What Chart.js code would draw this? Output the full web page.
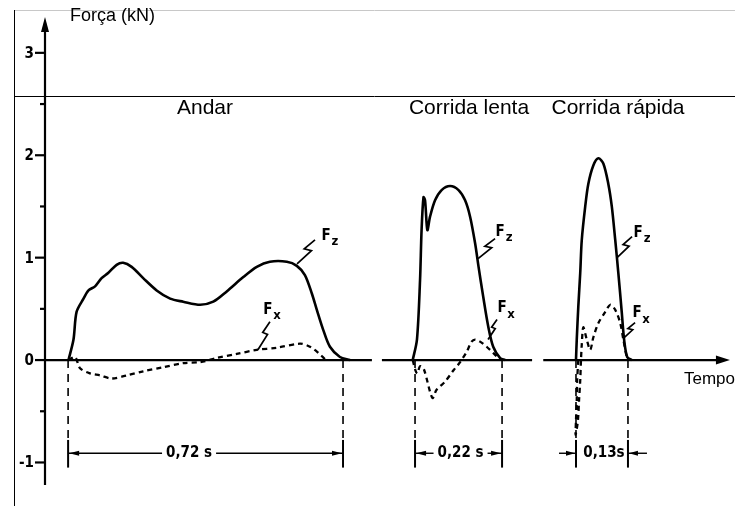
<!DOCTYPE html>
<html><head><meta charset="utf-8">
<script src="https://cdn.jsdelivr.net/npm/chart.js@4.4.1/dist/chart.umd.min.js"></script>
<style>html,body{margin:0;padding:0;background:#fff;}#wrap{width:735px;height:506px;position:relative;}</style>
</head><body><div id="wrap"><canvas id="c" width="735" height="506" style="width:735px;height:506px"></canvas></div>
<script>
// ---------- data (time in s, force in kN) ----------
const walkT  = [0.061,0.074,0.082,0.100,0.113,0.130,0.147,0.164,0.186,0.203,0.225,0.255,0.290,0.325,0.359,0.403,0.437,0.472,0.515,0.550,0.584,0.628,0.654,0.675,0.693,0.706,0.723,0.740,0.766,0.792];
const walkFz = [0,0.20,0.47,0.60,0.68,0.72,0.80,0.85,0.93,0.95,0.91,0.80,0.68,0.60,0.57,0.54,0.57,0.67,0.81,0.91,0.96,0.96,0.92,0.83,0.65,0.49,0.29,0.13,0.03,0];
const walkFxT = [0.061,0.078,0.091,0.117,0.143,0.173,0.212,0.255,0.307,0.359,0.403,0.446,0.498,0.550,0.602,0.662,0.688,0.710,0.727];
const walkFx  = [0,0.03,-0.08,-0.13,-0.15,-0.18,-0.15,-0.11,-0.07,-0.03,-0.02,0.02,0.06,0.10,0.12,0.16,0.13,0.07,0.01];

const slowT  = [0.955,0.966,0.974,0.978,0.983,0.987,0.993,1.000,1.013,1.030,1.052,1.074,1.091,1.104,1.117,1.126,1.138,1.151,1.164,1.182,1.195];
const slowFz = [0,0.20,0.78,1.27,1.59,1.56,1.27,1.40,1.56,1.66,1.70,1.66,1.56,1.40,1.14,0.91,0.62,0.33,0.13,0.02,0];
const slowFxT = [0.955,0.962,0.967,0.974,0.984,1.006,1.017,1.039,1.061,1.078,1.095,1.108,1.117,1.130,1.147,1.164,1.182];
const slowFx  = [0,-0.10,-0.13,-0.06,-0.09,-0.37,-0.29,-0.21,-0.10,-0.02,0.08,0.18,0.20,0.18,0.13,0.07,0];

const fastT  = [1.379,1.381,1.385,1.390,1.394,1.403,1.411,1.424,1.437,1.450,1.463,1.472,1.481,1.489,1.498,1.504,1.512,1.524];
const fastFz = [0,0.20,0.52,0.85,1.17,1.50,1.72,1.90,1.97,1.92,1.72,1.50,1.17,0.85,0.46,0.20,0.03,0];
const fastFxT = [1.385,1.382,1.381,1.379,1.378,1.384,1.387,1.390,1.392,1.394,1.398,1.407,1.416,1.424,1.437,1.455,1.468,1.481,1.494,1.502,1.511,1.516];
const fastFx  = [0,-0.20,-0.39,-0.59,-0.73,-0.59,-0.39,-0.20,0,0.15,0.32,0.20,0.10,0.22,0.36,0.47,0.54,0.49,0.36,0.20,0.03,0];

const phaseNames = ['Andar','Corrida lenta','Corrida rápida'];
const stanceStart = [0.060,0.961,1.379];
const stanceEnd   = [0.774,1.187,1.514];
const durationLabels = ['0,72 s','0,22 s','0,13s'];

const baselineSegments = [[0,0.849],[0.875,1.265],[1.294,1.745]];

const yMajor = [-1,0,1,2,3];
const yMajorLabels = ['-1','0','1','2','3'];
const yMinor = [-0.5,0.5,1.5,2.5];

// leader labels: anchor on curve (t, kN), letter subscript
const leaderT   = [0.6545,0.553,1.1247,1.1506,1.4857,1.5013];
const leaderF   = [0.94,0.10,0.99,0.20,1.00,0.21];
const leaderSub = ['z','x','z','x','z','x'];

// ---------- helpers ----------
const pts = (ts, fs) => ts.map((t,i)=>({x:t,y:fs[i]}));
const baseline = [];
baselineSegments.forEach(([a,b],i)=>{ if(i) baseline.push({x:a-0.005,y:null}); baseline.push({x:a,y:0},{x:b,y:0}); });
const dimLevel = -0.91, dashBottom = -0.78, tickBottom = -1.05;
const verticals = [];
stanceStart.concat(stanceEnd).forEach((t,i)=>{ if(i) verticals.push({x:t,y:null}); verticals.push({x:t,y:0},{x:t,y:dashBottom}); });

const solid = (data,w)=>({data, borderColor:'#000', borderWidth:w, pointRadius:0, tension:0.3, fill:false, spanGaps:false});
const dashed = (data,w,d)=>({data, borderColor:'#000', borderWidth:w, borderDash:d, pointRadius:0, tension:0.3, fill:false, spanGaps:false});

const datasets = [
  Object.assign(solid(baseline,2.2),{tension:0}),
  solid(pts(walkT,walkFz),2.6),
  dashed(pts(walkFxT,walkFx),2.3,[5,4]),
  solid(pts(slowT,slowFz),2.6),
  dashed(pts(slowFxT,slowFx),2.3,[5,4]),
  solid(pts(fastT,fastFz),2.6),
  dashed(pts(fastFxT,fastFx),2.3,[5,4]),
  Object.assign(dashed(verticals,1.6,[8,6]),{tension:0})
];

function seg(ctx,x1,y1,x2,y2){ctx.beginPath();ctx.moveTo(x1,y1);ctx.lineTo(x2,y2);ctx.stroke();}
function arrow(ctx,tx,ty,dir,len,hw){ // dir: 'l','r','u'
  ctx.beginPath();
  if(dir==='u'){ctx.moveTo(tx,ty);ctx.lineTo(tx-hw,ty+len);ctx.lineTo(tx+hw,ty+len);}
  else if(dir==='r'){ctx.moveTo(tx,ty);ctx.lineTo(tx-len,ty-hw);ctx.lineTo(tx-len,ty+hw);}
  else {ctx.moveTo(tx,ty);ctx.lineTo(tx+len,ty-hw);ctx.lineTo(tx+len,ty+hw);}
  ctx.closePath();ctx.fill();
}

const NARROW = '"Liberation Sans Narrow","DejaVu Sans Condensed","Liberation Sans",sans-serif';
const SANS = '"Liberation Sans",Arial,sans-serif';

const deco = {
  id:'deco',
  beforeDatasetsDraw(chart){
    const {ctx} = chart, xs = chart.scales.x, ys = chart.scales.y;
    ctx.save();
    // frame lines of the scan
    ctx.lineWidth = 1;
    ctx.strokeStyle = '#c8c8c8'; seg(ctx,14,10.5,735,10.5);
    ctx.strokeStyle = '#000'; seg(ctx,14.5,10,14.5,506); seg(ctx,14,96.5,735,96.5);
    // y axis
    const ax = xs.getPixelForValue(0);
    ctx.lineWidth = 2.2;
    seg(ctx, ax, ys.bottom, ax, ys.top + 10);
    ctx.fillStyle = '#000';
    arrow(ctx, ax, ys.top, 'u', 15, 4);
    yMajor.forEach(v=>{ const py = ys.getPixelForValue(v); seg(ctx, ax-10, py, ax, py); });
    yMinor.forEach(v=>{ const py = ys.getPixelForValue(v); seg(ctx, ax-5, py, ax, py); });
    ctx.font = 'bold 15px ' + NARROW; ctx.textAlign = 'right'; ctx.textBaseline = 'middle';
    yMajor.forEach((v,i)=>{ ctx.fillText(yMajorLabels[i], ax-11, ys.getPixelForValue(v)+1); });
    // axis titles
    ctx.font = '18px ' + SANS; ctx.textAlign = 'left'; ctx.textBaseline = 'alphabetic';
    ctx.fillText('Força (kN)', 70, 21);
    ctx.textAlign = 'right';
    ctx.font = '17px ' + SANS;
    ctx.fillText('Tempo', 735, 384);
    // phase titles
    ctx.font = '21px ' + SANS; ctx.textAlign = 'center';
    const titleX = [205, 469, 618];
    phaseNames.forEach((n,i)=>ctx.fillText(n, titleX[i], 114));
    ctx.restore();
  },
  afterDatasetsDraw(chart){
    const {ctx} = chart, xs = chart.scales.x, ys = chart.scales.y;
    ctx.save();
    ctx.fillStyle = '#000'; ctx.strokeStyle = '#000';
    // x axis arrow
    const last = baselineSegments[baselineSegments.length-1][1];
    const y0 = ys.getPixelForValue(0);
    arrow(ctx, xs.getPixelForValue(last)+13, y0, 'r', 14, 4.5);
    // dimension lines
    const yd = ys.getPixelForValue(dimLevel);
    const yTop = ys.getPixelForValue(dashBottom), yBot = ys.getPixelForValue(tickBottom);
    ctx.font = 'bold 15px ' + NARROW; ctx.textAlign = 'center'; ctx.textBaseline = 'middle';
    stanceStart.forEach((s,i)=>{
      const xa = xs.getPixelForValue(s), xb = xs.getPixelForValue(stanceEnd[i]);
      ctx.lineWidth = 2;
      seg(ctx, xa, yTop, xa, yBot); seg(ctx, xb, yTop, xb, yBot);
      ctx.lineWidth = 1.4;
      const label = durationLabels[i];
      const w = ctx.measureText(label).width;
      if (i < 2) {
        const cx = i===0 ? xa + (xb-xa)*0.44 : (xa+xb)/2 + 2;
        ctx.fillText(label, cx, yd);
        seg(ctx, xa, yd, cx - w/2 - 4, yd); seg(ctx, cx + w/2 + 4, yd, xb, yd);
        arrow(ctx, xa+1, yd, 'l', 10, 2.6); arrow(ctx, xb-1, yd, 'r', 10, 2.6);
      } else {
        const cx = (xa+xb)/2 + 2;
        ctx.fillText(label, cx, yd);
        seg(ctx, xa-17, yd, xa, yd); seg(ctx, xb, yd, xb+19, yd);
        arrow(ctx, xa-1, yd, 'r', 9, 2.6); arrow(ctx, xb+1, yd, 'l', 9, 2.6);
      }
    });
    // F labels with lightning leaders
    const tops = [[18,-24],[12,-28],[17,-20],[9,-20],[15,-21],[12,-16]];
    const lab  = [[29,-28],[10,-40],[22,-27],[14,-31],[21,-25],[14,-25]];
    ctx.lineWidth = 1.7;
    leaderT.forEach((t,i)=>{
      const px = xs.getPixelForValue(t), py = ys.getPixelForValue(leaderF[i]);
      const [dx,dy] = tops[i];
      ctx.beginPath();
      ctx.moveTo(px,py);
      ctx.lineTo(px+0.8*dx, py+0.55*dy);
      ctx.lineTo(px+0.4*dx, py+0.62*dy);
      ctx.lineTo(px+dx, py+dy);
      ctx.stroke();
      const [lx,ly] = lab[i];
      ctx.font = 'bold 15px ' + NARROW; ctx.textAlign='center'; ctx.textBaseline='middle';
      ctx.fillText('F', px+lx, py+ly);
      ctx.font = 'bold 13px ' + NARROW;
      ctx.fillText(leaderSub[i], px+lx+9, py+ly+6);
    });
    ctx.restore();
  }
};

new Chart(document.getElementById('c'), {
  type:'line',
  data:{datasets},
  options:{
    responsive:false, animation:false, devicePixelRatio:1,
    layout:{padding:{left:45,right:10,top:17,bottom:21}},
    plugins:{legend:{display:false}, tooltip:{enabled:false}},
    scales:{
      x:{type:'linear', min:0, max:1.766, display:false},
      y:{type:'linear', min:-1.22, max:3.35, display:false}
    }
  },
  plugins:[deco]
});
</script></body></html>
